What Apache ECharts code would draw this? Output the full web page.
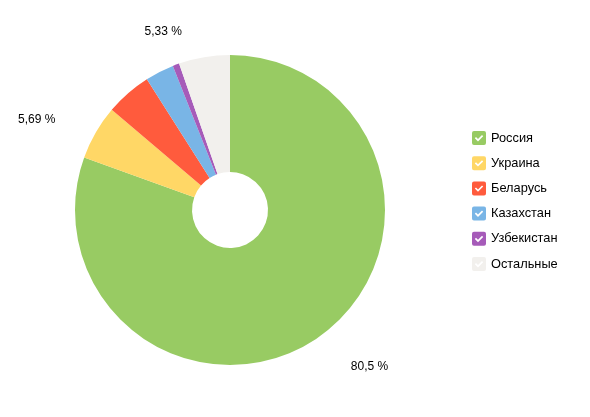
<!DOCTYPE html>
<html>
<head>
<meta charset="utf-8">
<script src="https://cdn.jsdelivr.net/npm/echarts@6/dist/echarts.min.js"></script>
<style>
html, body { margin: 0; padding: 0; background: #fff; }
#container { width: 590px; height: 417px; }
</style>
</head>
<body>
<div id="container"></div>
<script>
var countries = ['Россия', 'Украина', 'Беларусь', 'Казахстан', 'Узбекистан', 'Остальные'];
var shares = [80.5, 5.69, 4.8, 3.0, 0.68, 5.33];
var colors = ['#98CB63', '#FFD766', '#FF5B3D', '#79B5E6', '#A65BB9', '#F2F0ED'];

// rounded square with a checkmark cut out
var checkIcon = 'path://M2,0H12Q14,0,14,2V12Q14,14,12,14H2Q0,14,0,12V2Q0,0,2,0Z' +
    'M6,10.4L11.2,5.2L10,4L6,8L4,6L2.8,7.2Z';

var dom = document.getElementById('container');
var myChart = echarts.init(dom);

var pieData = countries.map(function (name, i) {
    var item = {
        name: name,
        value: shares[i],
        itemStyle: { color: colors[i] },
        label: { show: shares[i] > 5 }
    };
    // the big slice label sits a bit further out
    if (i === 0) {
        item.labelLine = { length: 36, length2: 6 };
    }
    return item;
});

var option = {
    animation: false,
    textStyle: { fontFamily: 'Liberation Sans, Arial, sans-serif' },
    legend: {
        orient: 'vertical',
        left: 467,
        top: 126,
        itemWidth: 14,
        itemHeight: 14,
        itemGap: 11.2,
        icon: checkIcon,
        textStyle: { color: '#000', fontSize: 12.8, padding: [0, 0, 0, 0] },
        data: countries
    },
    series: [
        {
            type: 'pie',
            center: [230, 210],
            radius: [38, 155],
            startAngle: 90,
            clockwise: true,
            avoidLabelOverlap: false,
            label: {
                position: 'outside',
                color: '#000',
                fontSize: 12,
                formatter: function (p) {
                    return String(p.value).replace('.', ',') + ' %';
                }
            },
            labelLine: { show: false, length: 26, length2: 13 },
            emphasis: { scale: false },
            data: pieData
        }
    ]
};
myChart.setOption(option, true);
</script>
</body>
</html>
